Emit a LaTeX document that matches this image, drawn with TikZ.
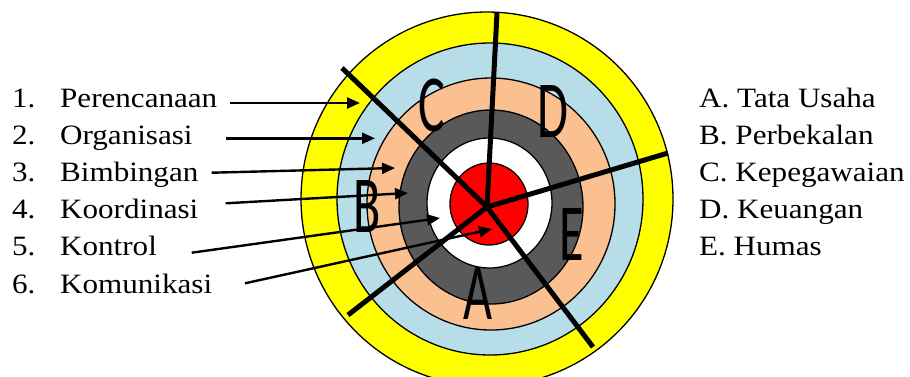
\documentclass[tikz,border=0pt]{standalone}
\usepackage{fontspec}
\setmainfont{Liberation Serif}[FakeStretch=1.11]
\newfontfamily\segfont{Carlito}[FakeStretch=0.62]
\usetikzlibrary{arrows.meta}
\definecolor{ringyellow}{HTML}{FFFF00}
\definecolor{ringblue}{HTML}{B7DEE8}
\definecolor{ringpeach}{HTML}{FAC090}
\definecolor{ringgray}{HTML}{595959}
\definecolor{ringred}{HTML}{FF0000}
\tikzset{
  ring/.style={draw=black, line width=1.3pt},
  spoke/.style={draw=black, line width=5pt},
  arr/.style={draw=black, line width=2.4pt, -{Triangle[length=13pt,width=11pt]}},
  listtext/.style={anchor=base west, inner sep=0pt, font=\fontsize{28}{30}\selectfont},
  seglabel/.style={anchor=center, inner sep=0pt, font=\segfont\fontsize{81}{81}\selectfont}
}
\begin{document}
\begin{tikzpicture}[x=1pt,y=-1pt]
\useasboundingbox (0,0) rectangle (910,376);
\clip (0,0) rectangle (910,376);
% rings
\path[ring, fill=ringyellow] (487,199) ellipse [x radius=186, y radius=187];
\path[ring, fill=ringblue] (490,199) ellipse [x radius=153, y radius=156];
\path[ring, fill=ringpeach] (491,204) ellipse [x radius=124, y radius=126];
\path[ring, fill=ringgray] (491,207) ellipse [x radius=92, y radius=97];
\path[ring, fill=white] (489.5,203) ellipse [x radius=62.5, y radius=65];
\path[ring, fill=ringred] (489,204) ellipse [x radius=39, y radius=41];
% spokes
\coordinate (hub) at (487,207);
\coordinate (s1) at (497,13);
\coordinate (s2) at (342,68);
\coordinate (s3) at (668,153);
\coordinate (s4) at (348,315);
\coordinate (s5) at (593,347);
\draw[spoke] (hub) -- (s1);
\draw[spoke] (hub) -- (s2);
\draw[spoke] (hub) -- (s3);
\draw[spoke] (hub) -- (s4);
\draw[spoke] (hub) -- (s5);
% segment letters
\node[seglabel] (segC) at (432,105) {C};
\node[seglabel] (segD) at (553,112) {D};
\node[seglabel] (segB) at (367,207) {B};
\node[seglabel] (segE) at (572,235) {E};
\node[seglabel] (segA) at (478,294) {A};
% left list
\node[listtext] (n1) at (12,107) {1.};
\node[listtext] (t1) at (60,107) {Perencanaan};
\node[listtext] (n2) at (12,144.2) {2.};
\node[listtext] (t2) at (60,144.2) {Organisasi};
\node[listtext] (n3) at (12,181.4) {3.};
\node[listtext] (t3) at (60,181.4) {Bimbingan};
\node[listtext] (n4) at (12,218.6) {4.};
\node[listtext] (t4) at (60,218.6) {Koordinasi};
\node[listtext] (n5) at (12,255.8) {5.};
\node[listtext] (t5) at (60,255.8) {Kontrol};
\node[listtext] (n6) at (12,293) {6.};
\node[listtext] (t6) at (60,293) {Komunikasi};
% right list
\node[listtext] (rA) at (699,107) {A. Tata Usaha};
\node[listtext] (rB) at (699,144) {B. Perbekalan};
\node[listtext] (rC) at (699,181) {C. Kepegawaian};
\node[listtext] (rD) at (699,218) {D. Keuangan};
\node[listtext] (rE) at (699,255) {E. Humas};
% arrows
\coordinate (a1s) at (230,103);   \coordinate (a1e) at (360,103);
\coordinate (a2s) at (225.7,138.3); \coordinate (a2e) at (375,138.3);
\coordinate (a3s) at (211.7,172.7); \coordinate (a3e) at (395,168);
\coordinate (a4s) at (225.7,203.3); \coordinate (a4e) at (408,193);
\coordinate (a5s) at (191.7,252.7); \coordinate (a5e) at (440,218);
\coordinate (a6s) at (245,283.3); \coordinate (a6e) at (492,229);
\draw[arr] (a1s) -- (a1e);
\draw[arr] (a2s) -- (a2e);
\draw[arr] (a3s) -- (a3e);
\draw[arr] (a4s) -- (a4e);
\draw[arr] (a5s) -- (a5e);
\draw[arr] (a6s) -- (a6e);
\end{tikzpicture}
\end{document}
